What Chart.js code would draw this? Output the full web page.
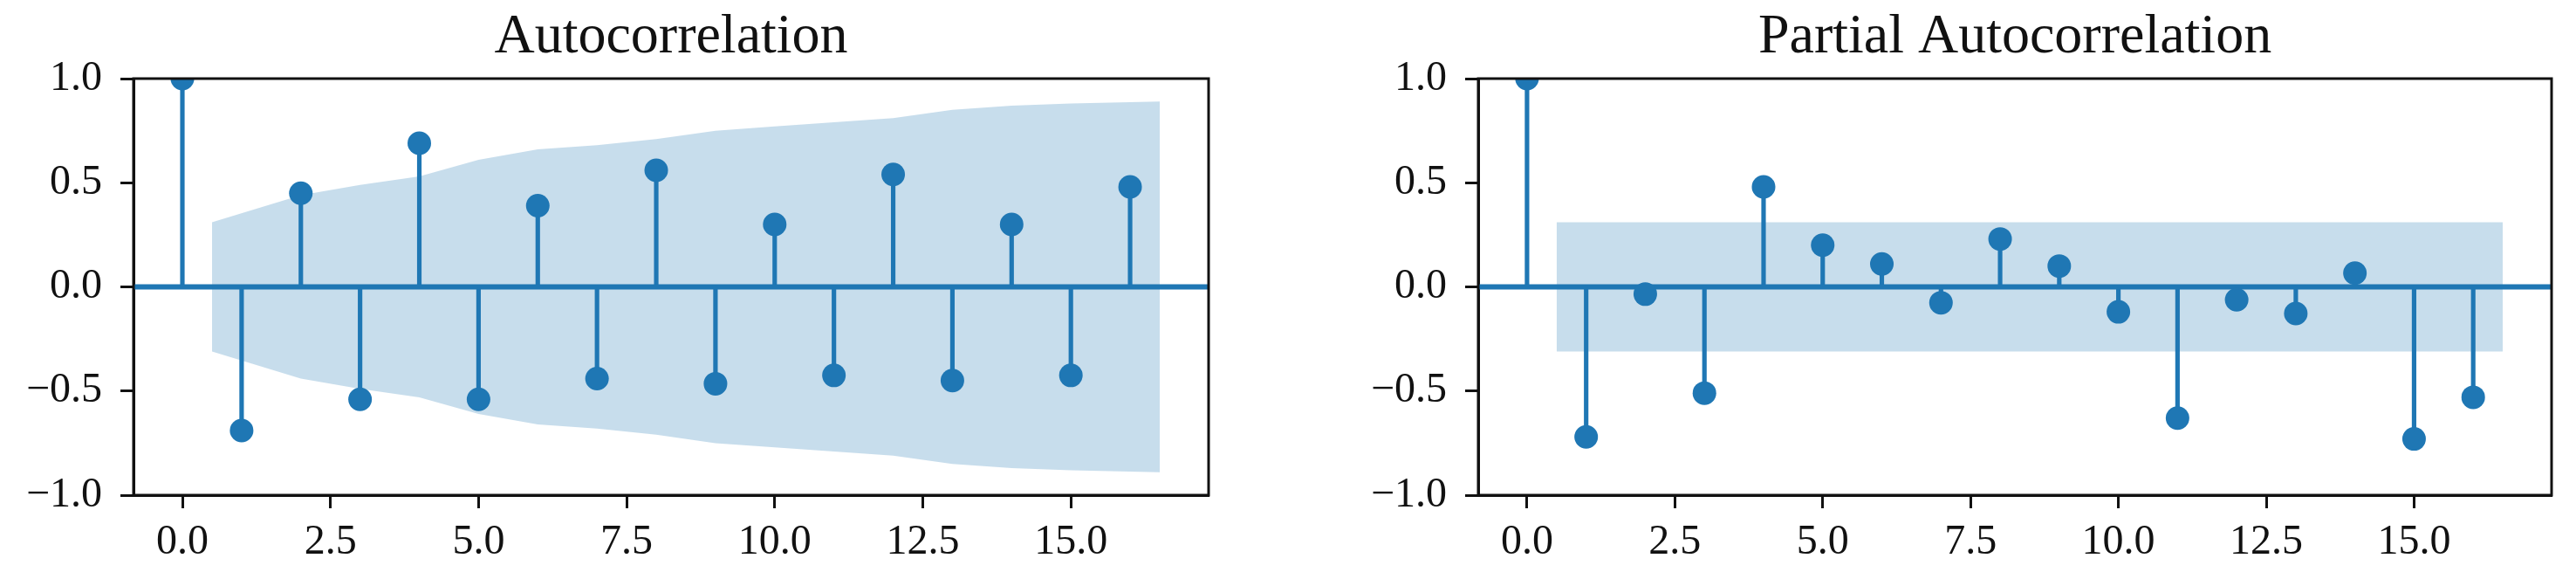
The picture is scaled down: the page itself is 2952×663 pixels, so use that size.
<!DOCTYPE html>
<html lang="en">

<head>
    <meta charset="UTF-8">
    <meta name="viewport" content="width=device-width, initial-scale=1.0">
    <title>Autocorrelation | Partial Autocorrelation</title>

    <script src="https://cdn.jsdelivr.net/npm/chart.js"></script>

    <style>
        html,
        body {
            margin: 0;
            padding: 0;
            background: #ffffff;
        }

        .painel {
            position: absolute;
            top: 0;
            width: 1476px;
            height: 663px;
        }
    </style>
</head>

<body>
    <div class="painel" style="left: 0px;">
        <canvas id="graficoAcf"></canvas>
    </div>
    <div class="painel" style="left: 1476px;">
        <canvas id="graficoPacf"></canvas>
    </div>
</body>

</html>

<script>
    // lags 0..16
    var lags = [0, 1, 2, 3, 4, 5, 6, 7, 8, 9, 10, 11, 12, 13, 14, 15, 16];

    var acfValores = [1.0, -0.69, 0.45, -0.54, 0.69, -0.54, 0.39, -0.44, 0.56, -0.465, 0.30, -0.425, 0.54, -0.45, 0.30, -0.425, 0.48];
    var pacfValores = [1.0, -0.72, -0.035, -0.51, 0.48, 0.20, 0.11, -0.076, 0.23, 0.10, -0.12, -0.63, -0.062, -0.128, 0.066, -0.73, -0.53];

    // faixa de confianca (x do primeiro e do ultimo ponto deslocados meio lag)
    var faixaLags = [0.5, 2, 3, 4, 5, 6, 7, 8, 9, 10, 11, 12, 13, 14, 15, 16.5];
    var acfFaixaSup = [0.31, 0.44, 0.49, 0.53, 0.61, 0.66, 0.68, 0.71, 0.75, 0.77, 0.79, 0.81, 0.85, 0.87, 0.88, 0.89];
    var acfFaixaInf = [-0.31, -0.44, -0.49, -0.53, -0.61, -0.66, -0.68, -0.71, -0.75, -0.77, -0.79, -0.81, -0.85, -0.87, -0.88, -0.89];
    var pacfFaixaSup = [0.31, 0.31, 0.31, 0.31, 0.31, 0.31, 0.31, 0.31, 0.31, 0.31, 0.31, 0.31, 0.31, 0.31, 0.31, 0.31];
    var pacfFaixaInf = [-0.31, -0.31, -0.31, -0.31, -0.31, -0.31, -0.31, -0.31, -0.31, -0.31, -0.31, -0.31, -0.31, -0.31, -0.31, -0.31];

    var xTicks = [0, 2.5, 5, 7.5, 10, 12.5, 15];
    var yTicks = [-1, -0.5, 0, 0.5, 1];

    var azul = '#1f77b4';
    var preto = '#111111';
    var fonteTicks = { family: "'Liberation Serif', serif", size: 48, weight: 'normal' };

    function formatar(v) {
        return Number(v).toFixed(1).replace('-', '\u2212');
    }

    function pontos(xs, ys) {
        return xs.map(function (x, i) { return { x: x, y: ys[i] }; });
    }

    // moldura (spines) e linha do zero
    const moldura = {
        id: 'moldura',
        afterDatasetDraw(chart, args) {
            if (args.index !== 2) return;
            const a = chart.chartArea;
            const ctx = chart.ctx;
            const y0 = chart.scales.y.getPixelForValue(0);
            ctx.save();
            ctx.beginPath();
            ctx.rect(a.left, a.top, a.right - a.left, a.bottom - a.top);
            ctx.clip();
            ctx.strokeStyle = azul;
            ctx.lineWidth = 6;
            ctx.beginPath();
            ctx.moveTo(a.left, y0);
            ctx.lineTo(a.right, y0);
            ctx.stroke();
            ctx.restore();
        },
        afterDraw(chart) {
            const a = chart.chartArea;
            const ctx = chart.ctx;
            ctx.save();
            ctx.strokeStyle = preto;
            ctx.lineWidth = 3;
            ctx.strokeRect(a.left, a.top, a.right - a.left, a.bottom - a.top);
            ctx.restore();
        }
    };

    function criarGrafico(id, titulo, valores, faixaSup, faixaInf, larguraY, padDireita) {
        const config = {
            type: 'scatter',
            data: {
                datasets: [
                    {
                        type: 'line',
                        data: pontos(faixaLags, faixaSup),
                        borderWidth: 0,
                        pointRadius: 0,
                        tension: 0,
                        fill: '+1',
                        backgroundColor: 'rgba(31, 119, 180, 0.25)',
                        order: 3,
                        clip: 0
                    },
                    {
                        type: 'line',
                        data: pontos(faixaLags, faixaInf),
                        borderWidth: 0,
                        pointRadius: 0,
                        tension: 0,
                        fill: false,
                        order: 3,
                        clip: 0
                    },
                    {
                        type: 'bar',
                        data: pontos(lags, valores),
                        backgroundColor: azul,
                        barThickness: 4.5,
                        grouped: false,
                        order: 2,
                        clip: 0
                    },
                    {
                        type: 'scatter',
                        data: pontos(lags, valores),
                        pointRadius: 13.5,
                        pointHoverRadius: 13.5,
                        pointBackgroundColor: azul,
                        pointBorderWidth: 0,
                        order: 1,
                        clip: 0
                    }
                ]
            },
            options: {
                responsive: true,
                maintainAspectRatio: false,
                devicePixelRatio: 1,
                animation: false,
                events: [],
                layout: { padding: { left: 0, right: padDireita, top: 0, bottom: 0 } },
                plugins: {
                    legend: { display: false },
                    tooltip: { enabled: false },
                    title: {
                        display: true,
                        text: titulo,
                        fullSize: false,
                        color: preto,
                        font: { family: "'Liberation Serif', serif", size: 64, weight: 'normal', lineHeight: 1.1 },
                        padding: { top: 8, bottom: 11.6 }
                    }
                },
                scales: {
                    x: {
                        type: 'linear',
                        min: -0.825,
                        max: 17.325,
                        offset: false,
                        afterBuildTicks: function (s) { s.ticks = xTicks.map(function (v) { return { value: v }; }); },
                        afterFit: function (s) { s.height = 96; },
                        grid: { offset: false, drawOnChartArea: false, drawTicks: true, tickLength: 15, tickWidth: 3, tickColor: preto },
                        border: { display: true, width: 3, color: preto },
                        ticks: {
                            font: fonteTicks, color: preto, padding: 11, maxRotation: 0, autoSkip: false,
                            callback: function (v) { return formatar(v); }
                        }
                    },
                    y: {
                        type: 'linear',
                        min: -1,
                        max: 1,
                        afterBuildTicks: function (s) { s.ticks = yTicks.map(function (v) { return { value: v }; }); },
                        afterFit: function (s) { s.width = larguraY; },
                        grid: { drawOnChartArea: false, drawTicks: true, tickLength: 15, tickWidth: 3, tickColor: preto },
                        border: { display: true, width: 3, color: preto },
                        ticks: {
                            font: fonteTicks, color: preto, padding: 21, autoSkip: false,
                            callback: function (v) { return formatar(v); }
                        }
                    }
                }
            },
            plugins: [moldura]
        };

        return new Chart(document.getElementById(id), config);
    }

    criarGrafico('graficoAcf', 'Autocorrelation', acfValores, acfFaixaSup, acfFaixaInf, 153, 91);
    criarGrafico('graficoPacf', 'Partial Autocorrelation', pacfValores, pacfFaixaSup, pacfFaixaInf, 218, 28);
</script>
